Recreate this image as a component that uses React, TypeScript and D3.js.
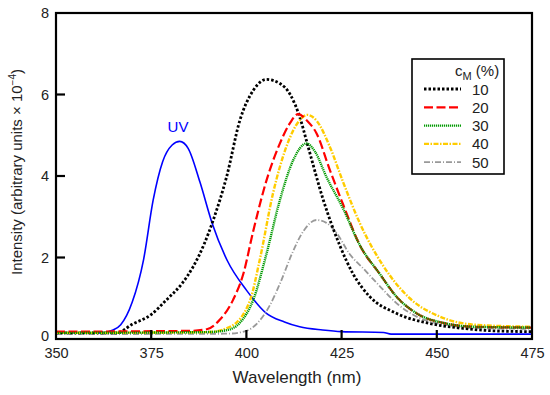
import { useEffect, useRef } from "react";
import * as d3 from "d3";

// wavelength (nm), intensity (x10^-4)
const uv: [number, number][] = [
  [350, 0.15], [362, 0.15], [365, 0.22], [367, 0.35], [370, 0.9], [373, 1.95],
  [375.5, 3.4], [378, 4.35], [380.5, 4.76], [382.5, 4.85], [384.7, 4.68],
  [387.8, 3.85], [391, 2.84], [395, 1.92], [400, 1.2], [405, 0.65], [410, 0.42],
  [414, 0.3], [420, 0.22], [425, 0.18], [436, 0.16], [438, 0.12], [475, 0.12],
];
const c10: [number, number][] = [
  [350, 0.15], [366, 0.15], [370, 0.36], [375, 0.6], [379, 0.96], [383, 1.35],
  [386, 1.77], [389, 2.35], [391.3, 2.92], [394.8, 3.98], [398.3, 5.37],
  [401.8, 6.1], [405.3, 6.37], [408.8, 6.27], [411.5, 6.0], [414, 5.45],
  [416.2, 4.72], [420.2, 3.41], [424.5, 2.3], [428, 1.6], [432.4, 1.04],
  [439.4, 0.63], [448.2, 0.38], [456.9, 0.26], [465, 0.2], [475, 0.18],
];
const c20: [number, number][] = [
  [350, 0.18], [385, 0.2], [389.6, 0.24], [393, 0.47], [396.5, 0.96],
  [399.2, 1.6], [401.8, 2.65], [405.3, 3.9], [408.8, 4.8], [411.4, 5.29],
  [413.6, 5.52], [416, 5.35], [418.4, 5.05], [421.9, 4.15], [425.4, 3.3],
  [429.8, 2.3], [435, 1.6], [439.4, 1.04], [444.7, 0.63], [452.5, 0.38],
  [460, 0.3], [475, 0.28],
];
const c30: [number, number][] = [
  [350, 0.15], [390, 0.17], [395, 0.22], [398.3, 0.4], [401.8, 0.96],
  [405.3, 2.1], [408.8, 3.41], [412.3, 4.39], [415.8, 4.8], [418, 4.6],
  [421, 3.98], [425.4, 3.2], [429.8, 2.3], [435, 1.6], [439.4, 1.04],
  [444.7, 0.63], [452.5, 0.38], [460, 0.3], [475, 0.28],
];
const c40: [number, number][] = [
  [350, 0.15], [390, 0.17], [395.7, 0.3], [401, 0.96], [403.5, 1.94],
  [407, 3.58], [410.5, 4.72], [414, 5.37], [416, 5.5], [418.5, 5.35],
  [421.9, 4.72], [425.4, 3.85], [429.8, 2.84], [435.9, 1.8], [442.9, 1.0],
  [450.8, 0.55], [460, 0.35], [475, 0.3],
];
const c50: [number, number][] = [
  [350, 0.12], [395, 0.13], [400, 0.2], [403, 0.4], [406, 0.8], [409, 1.4],
  [412, 2.1], [415, 2.65], [418.4, 2.92], [421, 2.85], [423.7, 2.6],
  [427, 2.1], [431, 1.7], [435, 1.3], [439.4, 0.88], [444.7, 0.55],
  [452, 0.35], [460, 0.27], [475, 0.25],
];

const legendLabels = ["10", "20", "30", "40", "50"];
const xTicks = [350, 375, 400, 425, 450, 475];
const yTicks = [0, 2, 4, 6, 8];

const series = [
  { data: c10, color: "#000000", width: 2.8, dash: "2.5,2" },
  { data: c20, color: "#ff0000", width: 2.2, dash: "9,3.5" },
  { data: c30, color: "#009a00", width: 2.4, dash: "1.2,0.8" },
  { data: c40, color: "#ffcc00", width: 2.4, dash: "5,1.5,1.5,1.5" },
  { data: c50, color: "#999999", width: 1.8, dash: "6,2,1,2" },
];

export default function App() {
  const ref = useRef<SVGSVGElement>(null);

  useEffect(() => {
    const svg = d3.select(ref.current);
    svg.selectAll("*").remove();
    const font = "'Liberation Sans', Arial, sans-serif";
    const left = 56, right = 532, top = 13, bottom = 339;

    const x = d3.scaleLinear().domain([350, 475]).range([left, right]);
    const y = d3.scaleLinear().domain([0, 8]).range([bottom, top]);

    const line = d3.line<[number, number]>()
      .x(d => x(d[0]))
      .y(d => y(d[1]))
      .curve(d3.curveMonotoneX);

    const plot = svg.append("g");
    plot.append("path")
      .attr("d", line(uv))
      .attr("fill", "none")
      .attr("stroke", "#0000ff")
      .attr("stroke-width", 1.6);

    // draw gray first so others sit on top, like the original
    const order = [4, 0, 3, 1, 2];
    order.forEach(i => {
      const s = series[i];
      plot.append("path")
        .attr("d", line(s.data))
        .attr("fill", "none")
        .attr("stroke", s.color)
        .attr("stroke-width", s.width)
        .attr("stroke-dasharray", s.dash);
    });

    // frame
    svg.append("rect")
      .attr("x", left).attr("y", top)
      .attr("width", right - left).attr("height", bottom - top)
      .attr("fill", "none").attr("stroke", "#000").attr("stroke-width", 2.2);

    // ticks
    const xAxis = d3.axisBottom(x).tickValues(xTicks).tickSize(0).tickPadding(9);
    const gx = svg.append("g").attr("transform", `translate(0,${bottom})`).call(xAxis);
    gx.select(".domain").remove();
    gx.selectAll("text").attr("font-family", font).attr("font-size", 14.5).attr("fill", "#222");
    xTicks.slice(1, -1).forEach(t => {
      svg.append("line").attr("x1", x(t)).attr("x2", x(t))
        .attr("y1", bottom).attr("y2", bottom - 9)
        .attr("stroke", "#000").attr("stroke-width", 2.2);
    });

    const yAxis = d3.axisLeft(y).tickValues(yTicks).tickSize(0).tickPadding(7);
    const gy = svg.append("g").attr("transform", `translate(${left},0)`).call(yAxis);
    gy.select(".domain").remove();
    gy.selectAll("text").attr("font-family", font).attr("font-size", 14.5).attr("fill", "#222");
    gy.selectAll(".tick").filter((d: any) => d === 0).select("text").attr("dy", "0.1em");
    yTicks.slice(1, -1).forEach(t => {
      svg.append("line").attr("x1", left).attr("x2", left + 9)
        .attr("y1", y(t)).attr("y2", y(t))
        .attr("stroke", "#000").attr("stroke-width", 2.2);
    });

    // axis titles
    svg.append("text")
      .attr("x", (left + right) / 2 + 3).attr("y", 383)
      .attr("text-anchor", "middle")
      .attr("font-family", font).attr("font-size", 17).attr("fill", "#222")
      .text("Wavelength (nm)");
    const yt = svg.append("text")
      .attr("transform", `translate(22,${(top + bottom) / 2 - 4}) rotate(-90)`)
      .attr("text-anchor", "middle")
      .attr("font-family", font).attr("font-size", 15).attr("fill", "#222");
    yt.append("tspan").text("Intensity (arbitrary units \u00d7 10");
    yt.append("tspan").attr("dy", -6).attr("font-size", 10).text("\u22124");
    yt.append("tspan").attr("dy", 6).text(")");

    // UV label
    svg.append("text")
      .attr("x", 178).attr("y", 132)
      .attr("text-anchor", "middle")
      .attr("font-family", font).attr("font-size", 15).attr("fill", "#0000ff")
      .text("UV");

    // legend
    const lg = svg.append("g");
    lg.append("rect")
      .attr("x", 412).attr("y", 59).attr("width", 92).attr("height", 115)
      .attr("fill", "#fff").attr("stroke", "#000").attr("stroke-width", 1.6);
    const title = lg.append("text")
      .attr("x", 455).attr("y", 76)
      .attr("font-family", font).attr("font-size", 15).attr("fill", "#222");
    title.append("tspan").text("c");
    title.append("tspan").attr("dy", 4).attr("font-size", 11).text("M");
    title.append("tspan").attr("dy", -4).text(" (%)");
    legendLabels.forEach((lab, i) => {
      const s = series[i];
      const ly = 89 + i * 18.3;
      lg.append("line")
        .attr("x1", 424).attr("x2", 461).attr("y1", ly).attr("y2", ly)
        .attr("stroke", s.color).attr("stroke-width", s.width)
        .attr("stroke-dasharray", s.dash);
      lg.append("text")
        .attr("x", 472).attr("y", ly + 5.5)
        .attr("font-family", font).attr("font-size", 15).attr("fill", "#222")
        .text(lab);
    });
  }, []);

  return (
    <svg ref={ref} width={550} height={395}
      style={{ position: "absolute", left: 0, top: 0, background: "#fff" }} />
  );
}
